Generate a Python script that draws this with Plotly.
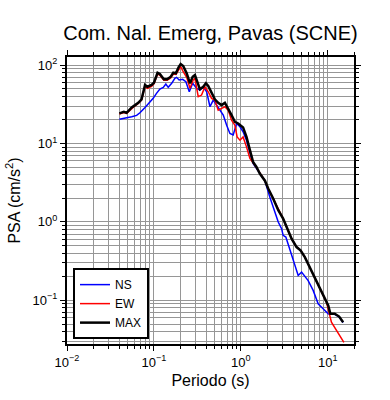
import plotly.graph_objects as go

# ---- data (period in s, PSA in cm/s^2) ----
t_ns = [0.040,0.0485,0.0555,0.0632,0.069,0.079,0.090,0.098,0.107,0.117,0.128,0.137,0.146,0.160,0.174,0.182,0.195,0.214,0.233,0.255,0.279,0.310,0.338,0.369,0.404,0.441,0.481,0.526,0.574,0.627,0.686,0.748,0.815,0.893,0.976,1.06,1.16,1.27,1.38,1.58,1.80,1.89,2.15,2.46,2.69,2.94,3.06,3.29,3.66,4.18,4.56,4.99,5.94,6.78,7.74,8.83,10.1,10.7,12.0,13.5,15.0]
psa_ns = [20.3,21.0,21.9,22.8,24.6,28.8,34.0,37.6,43.5,49.4,51.9,57.2,51.9,58.4,67.6,69.6,64.3,65.7,61.2,45.6,58.4,50.4,48.0,52.8,45.6,29.4,35.7,30.8,26.6,23.0,17.1,13.4,12.8,18.0,16.3,14.1,11.0,7.45,5.55,4.47,3.57,3.35,2.08,1.28,0.997,0.821,0.674,0.641,0.434,0.279,0.208,0.229,0.179,0.134,0.0906,0.0781,0.0675,0.0665,0.0665,0.0615,0.0522]

t_ew = [0.040,0.045,0.0485,0.0555,0.0606,0.066,0.072,0.079,0.084,0.094,0.100,0.110,0.117,0.130,0.142,0.156,0.167,0.179,0.192,0.203,0.217,0.238,0.260,0.283,0.296,0.323,0.353,0.386,0.421,0.460,0.502,0.548,0.600,0.655,0.714,0.781,0.853,0.905,0.976,1.06,1.16,1.27,1.45,1.65,1.89,2.06,2.35,2.69,3.06,3.35,3.83,4.37,4.85,5.44,6.21,7.09,8.09,9.66,11.0,12.6,15.3]
psa_ew = [23.8,24.8,24.2,28.2,30.2,32.4,35.8,53.5,50.5,53.5,57.5,77.0,74.0,64.0,64.0,68.5,76.7,76.0,88.0,95.2,82.1,69.6,50.4,64.3,67.6,39.4,41.4,52.8,45.6,37.6,35.7,26.6,28.0,29.4,26.6,19.8,17.1,12.1,11.0,12.1,9.05,6.43,5.28,4.14,3.35,2.66,1.99,1.41,1.10,0.861,0.612,0.478,0.434,0.356,0.265,0.198,0.141,0.0948,0.0527,0.0413,0.0292]

t_max = [0.040,0.045,0.0485,0.0555,0.0606,0.066,0.072,0.079,0.084,0.094,0.100,0.110,0.117,0.130,0.142,0.156,0.167,0.179,0.192,0.203,0.217,0.238,0.260,0.279,0.296,0.310,0.338,0.369,0.396,0.421,0.460,0.502,0.548,0.600,0.655,0.714,0.781,0.853,0.931,1.06,1.16,1.27,1.38,1.51,1.65,1.89,2.06,2.35,2.69,3.06,3.35,3.83,4.37,4.85,5.44,6.21,7.09,8.09,9.24,10.1,10.7,12.0,13.5,15.0]
psa_max = [24.2,25.3,24.6,28.8,30.8,33.0,36.5,55.6,52.8,55.6,59.4,79.7,76.7,65.7,65.7,70.9,79.7,78.3,93.5,103,97.1,78.3,58.4,70.9,74.5,64.3,49.0,52.8,58.4,53.9,43.5,36.5,33.0,30.8,33.0,28.0,23.0,18.9,18.0,16.0,12.1,8.21,5.82,5.02,4.14,3.35,2.66,1.99,1.41,1.10,0.861,0.612,0.478,0.434,0.356,0.265,0.198,0.141,0.110,0.0861,0.0675,0.0675,0.0622,0.0527]

x_tickvals = [0.01, 0.1, 1, 10]
x_ticktext = ["10<sup>−2</sup>", "10<sup>−1</sup>", "10<sup>0</sup>", "10<sup>1</sup>"]
y_tickvals = [0.1, 1, 10, 100]
y_ticktext = ["10<sup>−1</sup>", "10<sup>0</sup>", "10<sup>1</sup>", "10<sup>2</sup>"]

title = "Com. Nal. Emerg, Pavas (SCNE)"
x_title = "Periodo (s)"
y_title = "PSA (cm/s<sup>2</sup>)"

FONT = "Liberation Sans, Arial, Helvetica, sans-serif"
GRID = "rgb(150,150,150)"

fig = go.Figure()
fig.add_trace(go.Scatter(x=t_ns, y=psa_ns, mode="lines", name="NS",
                         line=dict(color="#0000ff", width=1.5)))
fig.add_trace(go.Scatter(x=t_ew, y=psa_ew, mode="lines", name="EW",
                         line=dict(color="#ff0000", width=1.5)))
fig.add_trace(go.Scatter(x=t_max, y=psa_max, mode="lines", name="MAX",
                         line=dict(color="#000000", width=2.5)))

axis_common = dict(
    type="log", showline=True, linecolor="black", linewidth=2, mirror="ticks",
    ticks="outside", ticklen=5, tickwidth=1, tickcolor="black",
    showgrid=True, gridcolor=GRID, gridwidth=1, zeroline=False,
    tickfont=dict(family=FONT, size=13, color="black"),
    minor=dict(dtick="D1", ticks="outside", ticklen=3, tickcolor="black",
               showgrid=True, gridcolor=GRID, gridwidth=1),
)

fig.update_xaxes(range=[-2, 1.301], tickvals=x_tickvals, ticktext=x_ticktext,
                 title=dict(text=x_title, font=dict(family=FONT, size=16, color="black"), standoff=6),
                 **axis_common)
fig.update_yaxes(range=[-1.556, 2.102], tickvals=y_tickvals, ticktext=y_ticktext,
                 title=dict(text=y_title, font=dict(family=FONT, size=16, color="black"), standoff=8),
                 **axis_common)

fig.update_layout(
    width=390, height=400,
    margin=dict(l=67, r=36, t=57, b=56),
    paper_bgcolor="white", plot_bgcolor="white",
    title=dict(text=title, x=0.5, xref="paper", xanchor="center",
               y=1 - 33 / 400, yanchor="middle",
               font=dict(family=FONT, size=20, color="black")),
    legend=dict(x=0.021, y=0.017, xanchor="left", yanchor="bottom",
                bgcolor="white", bordercolor="black", borderwidth=2,
                font=dict(family=FONT, size=12, color="black")),
    showlegend=True,
)

fig.write_html("out.html")
